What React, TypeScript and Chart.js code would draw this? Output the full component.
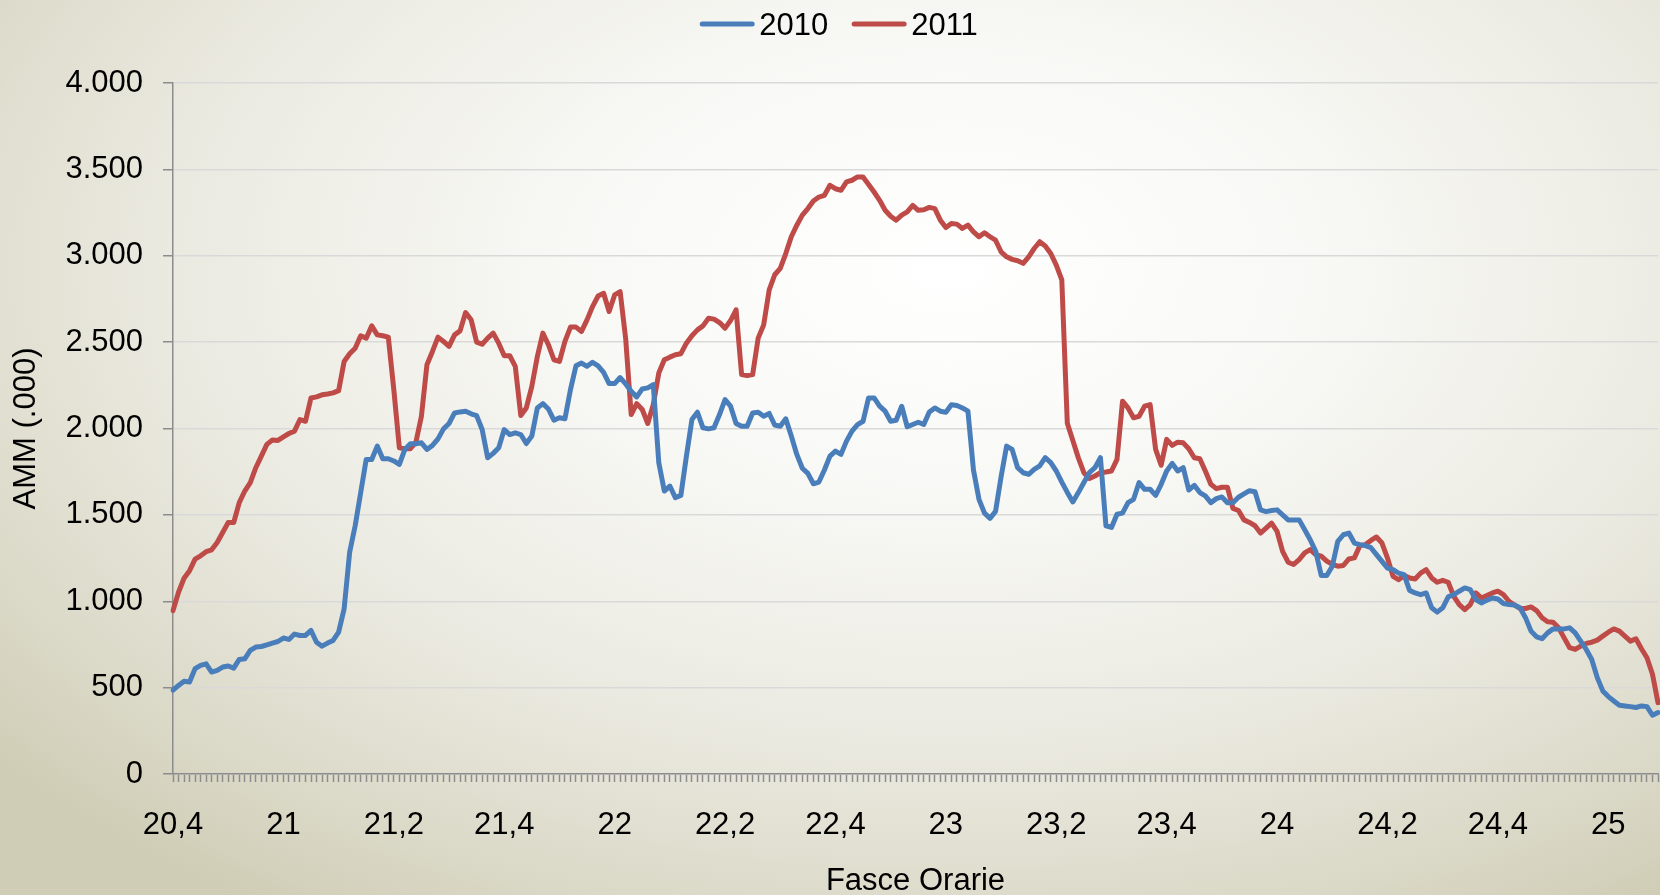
import React, { useEffect, useRef } from "react";
import { Chart, registerables } from "chart.js";

Chart.register(...registerables);

const SERIES_2010: number[] = [
  485, 513, 537, 533, 610, 629, 638, 590, 600, 619,
  625, 613, 663, 667, 715, 735, 738, 748, 758, 767,
  787, 779, 810, 802, 802, 831, 763, 740, 758, 773,
  821, 956, 1283, 1437, 1629, 1821, 1821, 1898, 1825, 1825,
  1812, 1792, 1879, 1912, 1912, 1917, 1879, 1902, 1940, 1998,
  2029, 2090, 2096, 2100, 2085, 2075, 1994, 1831, 1856, 1888,
  1994, 1965, 1975, 1965, 1913, 1956, 2119, 2144, 2113, 2048,
  2062, 2056, 2225, 2363, 2379, 2360, 2383, 2363, 2325, 2260,
  2260, 2295, 2258, 2215, 2183, 2229, 2235, 2254, 1802, 1638,
  1667, 1600, 1613, 1840, 2052, 2094, 2004, 1998, 2004, 2081,
  2167, 2129, 2029, 2013, 2013, 2090, 2094, 2071, 2087, 2020,
  2013, 2056, 1956, 1850, 1770, 1740, 1680, 1690, 1760, 1840,
  1869, 1850, 1927, 1985, 2023, 2042, 2177, 2177, 2129, 2100,
  2042, 2048, 2129, 2010, 2023, 2036, 2023, 2095, 2119, 2100,
  2094, 2138, 2133, 2119, 2100, 1760, 1590, 1510, 1480, 1520,
  1720, 1898, 1879, 1773, 1744, 1735, 1763, 1783, 1831, 1802,
  1754, 1690, 1630, 1575, 1629, 1687, 1744, 1773, 1831, 1437,
  1427, 1504, 1510, 1571, 1590, 1687, 1648, 1648, 1613, 1677,
  1754, 1798, 1754, 1773, 1644, 1671, 1629, 1610, 1571, 1594,
  1604, 1570, 1571, 1602, 1621, 1640, 1634, 1529, 1519, 1525,
  1529, 1500, 1471, 1471, 1471, 1414, 1356, 1289, 1149, 1149,
  1203, 1347, 1385, 1395, 1337, 1328, 1322, 1310, 1270, 1231,
  1192, 1183, 1163, 1154, 1063, 1048, 1038, 1048, 962, 937,
  962, 1025, 1038, 1058, 1077, 1067, 1010, 990, 1006, 1019,
  1013, 987, 981, 978, 962, 905, 827, 794, 783, 817,
  840, 840, 840, 846, 817, 769, 721, 663, 558, 481,
  448, 423, 398, 394, 390, 385, 394, 390, 340, 356,
];

const SERIES_2011: number[] = [
  946, 1052, 1133, 1177, 1244, 1263, 1287, 1298, 1340, 1398,
  1456, 1456, 1571, 1638, 1687, 1773, 1840, 1908, 1933, 1931,
  1952, 1971, 1985, 2052, 2042, 2177, 2183, 2195, 2200, 2206,
  2219, 2388, 2433, 2465, 2537, 2523, 2594, 2542, 2537, 2529,
  2225, 1888, 1883, 1883, 1921, 2071, 2369, 2446, 2529, 2504,
  2475, 2542, 2565, 2671, 2630, 2500, 2488, 2523, 2552, 2494,
  2421, 2421, 2360, 2075, 2119, 2244, 2417, 2552, 2485, 2398,
  2388, 2504, 2587, 2587, 2562, 2629, 2706, 2767, 2783, 2677,
  2773, 2792, 2520, 2081, 2144, 2110, 2029, 2138, 2321, 2398,
  2413, 2427, 2433, 2494, 2537, 2571, 2594, 2638, 2633, 2613,
  2581, 2625, 2687, 2312, 2306, 2312, 2523, 2600, 2802, 2890,
  2927, 3013, 3110, 3177, 3235, 3273, 3317, 3340, 3350, 3408,
  3388, 3379, 3427, 3437, 3456, 3456, 3413, 3369, 3321, 3263,
  3229, 3206, 3235, 3254, 3292, 3263, 3266, 3280, 3273, 3206,
  3163, 3187, 3183, 3158, 3177, 3138, 3110, 3133, 3110, 3090,
  3023, 2994, 2979, 2971, 2956, 2994, 3042, 3081, 3056, 3013,
  2946, 2860, 2030, 1930, 1830, 1744, 1710, 1725, 1744, 1748,
  1754, 1821, 2158, 2119, 2062, 2071, 2129, 2138, 1879, 1787,
  1937, 1902, 1921, 1917, 1883, 1831, 1825, 1754, 1677, 1652,
  1660, 1660, 1538, 1525, 1471, 1456, 1437, 1395, 1423, 1452,
  1404, 1289, 1226, 1213, 1241, 1280, 1299, 1270, 1261, 1232,
  1213, 1203, 1207, 1245, 1251, 1322, 1328, 1352, 1372, 1337,
  1250, 1144, 1125, 1148, 1135, 1129, 1163, 1183, 1135, 1110,
  1121, 1110, 1029, 981, 952, 981, 1048, 1019, 1033, 1048,
  1058, 1038, 1000, 978, 958, 958, 967, 946, 904, 881,
  879, 846, 788, 731, 721, 740, 756, 763, 775, 798,
  821, 840, 827, 798, 769, 783, 725, 673, 577, 413,
];

// one category per minute, starting at 20:40
const START_MINUTE = 20 * 60 + 40;
const CATEGORIES: string[] = SERIES_2010.map((_, i) => {
  const m = START_MINUTE + i;
  return `${Math.floor(m / 60)}:${String(m % 60).padStart(2, "0")}`;
});

const X_TICK_LABELS = ["20,4", "21", "21,2", "21,4", "22", "22,2", "22,4", "23", "23,2", "23,4", "24", "24,2", "24,4", "25"];
const X_LABEL_EVERY = 20;
const Y_TICK_LABELS = ["0", "500", "1.000", "1.500", "2.000", "2.500", "3.000", "3.500", "4.000"];
const Y_STEP = 500;

const SERIES_LABELS = ["2010", "2011"];
const COLORS = ["#4a7ebb", "#be4b48"];

const FONT = "'Liberation Sans', Arial, sans-serif";
const FONT_SIZE = 31;

const legendPlugin = {
  id: "customLegend",
  afterDraw(chart: any) {
    const ctx = chart.ctx as CanvasRenderingContext2D;
    ctx.save();
    ctx.font = `${FONT_SIZE}px ${FONT}`;
    ctx.textBaseline = "alphabetic";
    const lineW = 54;
    const gapLineText = 5;
    const gapItems = 24;
    const widths = chart.data.datasets.map((d: any) => ctx.measureText(d.label).width);
    let total = 0;
    widths.forEach((w: number, i: number) => {
      total += lineW + gapLineText + w + (i < widths.length - 1 ? gapItems : 0);
    });
    let x = chart.width / 2 + 9 - total / 2;
    const lineY = 24;
    const baseY = 34.5;
    chart.data.datasets.forEach((d: any, i: number) => {
      ctx.strokeStyle = d.borderColor;
      ctx.lineWidth = 5;
      ctx.lineCap = "round";
      ctx.beginPath();
      ctx.moveTo(x + 2, lineY);
      ctx.lineTo(x + lineW - 2, lineY);
      ctx.stroke();
      x += lineW + gapLineText;
      ctx.fillStyle = "#000";
      ctx.fillText(d.label, x, baseY);
      x += widths[i] + gapItems;
    });
    ctx.restore();
  },
};

export default function App() {
  const canvasRef = useRef<HTMLCanvasElement | null>(null);

  useEffect(() => {
    const canvas = canvasRef.current;
    if (!canvas) return;
    Chart.defaults.font.family = FONT;
    Chart.defaults.color = "#000";
    const chart = new Chart(canvas, {
      type: "line",
      data: {
        labels: CATEGORIES,
        datasets: [SERIES_2010, SERIES_2011].map((data, i) => ({
          label: SERIES_LABELS[i],
          data,
          borderColor: COLORS[i],
          backgroundColor: COLORS[i],
          borderWidth: 5,
          pointRadius: 0,
          pointHoverRadius: 0,
          tension: 0,
          borderJoinStyle: "round" as const,
          borderCapStyle: "round" as const,
        })),
      },
      options: {
        responsive: false,
        devicePixelRatio: 1,
        animation: false,
        events: [],
        layout: { padding: { top: 83, right: 2, left: 0, bottom: 0 } },
        plugins: {
          legend: { display: false },
          tooltip: { enabled: false },
        },
        scales: {
          x: {
            type: "category",
            offset: false,
            afterFit: (scale: any) => {
              scale.height = 121;
              scale.paddingRight = 0;
              scale.paddingLeft = 0;
            },
            grid: {
              display: true,
              drawOnChartArea: false,
              drawTicks: true,
              tickLength: 8,
              tickWidth: 1.5,
              tickColor: "#8c8c8c",
            },
            border: { display: true, color: "#8c8c8c", width: 1.5 },
            ticks: {
              autoSkip: false,
              maxRotation: 0,
              minRotation: 0,
              padding: 25,
              font: { size: FONT_SIZE },
              color: "#000",
              callback: (_v: any, index: number) =>
                index % X_LABEL_EVERY === 0 ? X_TICK_LABELS[index / X_LABEL_EVERY] ?? "" : "",
            },
            title: {
              display: true,
              text: "Fasce Orarie",
              font: { size: FONT_SIZE, lineHeight: 1.0 },
              color: "#000",
              padding: { top: 0, bottom: -2 },
            },
          },
          y: {
            min: 0,
            max: 4000,
            afterFit: (scale: any) => {
              scale.width = 173;
            },
            grid: {
              color: "#d9d9d9",
              lineWidth: 1.5,
              drawTicks: true,
              tickLength: 10,
              tickColor: "#8c8c8c",
              tickWidth: 1.5,
            },
            border: { display: true, color: "#8c8c8c", width: 1.5 },
            ticks: {
              stepSize: Y_STEP,
              padding: 20,
              font: { size: FONT_SIZE },
              color: "#000",
              callback: (v: any) => Y_TICK_LABELS[Math.round(Number(v) / Y_STEP)] ?? "",
            },
            title: {
              display: true,
              text: "AMM (.000)",
              font: { size: FONT_SIZE },
              color: "#000",
              padding: { top: 8, bottom: 0 },
            },
          },
        },
      },
      plugins: [legendPlugin],
    });
    return () => chart.destroy();
  }, []);

  return (
    <div
      style={{
        position: "absolute",
        left: 0,
        top: 0,
        width: 1660,
        height: 895,
        overflow: "hidden",
        background:
          "radial-gradient(ellipse 75% 85% at 57% 30%, #ffffff 0%, #f8f8f5 30%, #ebeae1 62%, #d8d6c3 90%, #d0cdb6 100%)",
      }}
    >
      <canvas ref={canvasRef} width={1660} height={895} style={{ display: "block" }} />
    </div>
  );
}
